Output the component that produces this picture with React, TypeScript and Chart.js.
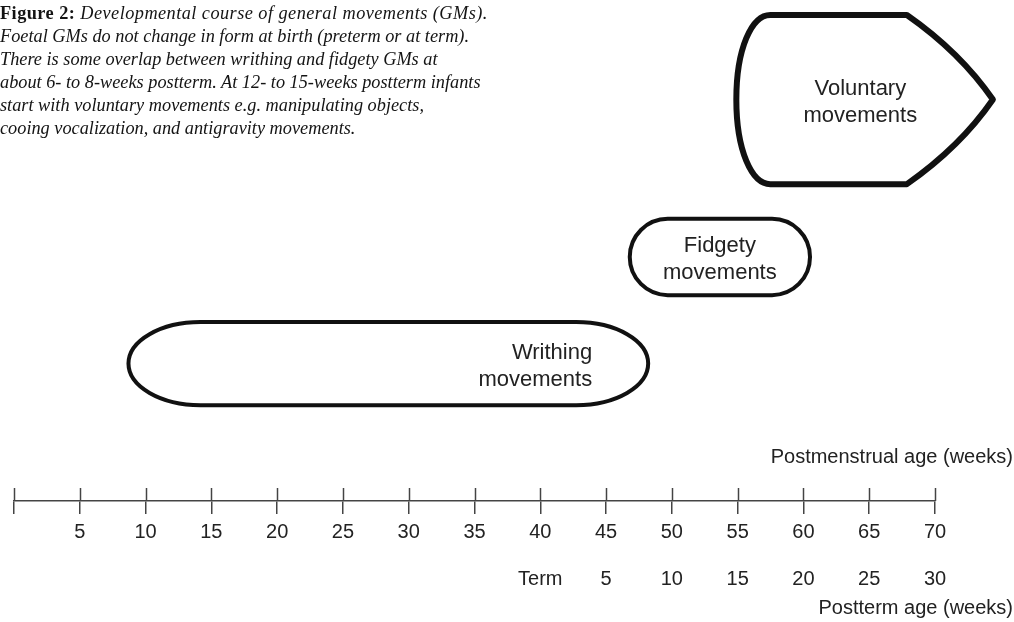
import React, { useEffect, useRef } from "react";
import { Chart, registerables } from "chart.js";

Chart.register(...registerables);

// ---------- data ----------
const movementNames: string[][] = [
  ["Writhing", "movements"],
  ["Fidgety", "movements"],
  ["Voluntary", "movements"],
];
const movementStartPMA: number[] = [8.7, 46.8, 54.9];
const movementEndPMA: number[] = [48.2, 60.5, 74.4];

const pmaTickValues: number[] = [0, 5, 10, 15, 20, 25, 30, 35, 40, 45, 50, 55, 60, 65, 70];
const pmaTickLabels: string[] = ["", "5", "10", "15", "20", "25", "30", "35", "40", "45", "50", "55", "60", "65", "70"];
const posttermTickLabels: string[] = ["", "", "", "", "", "", "", "", "Term", "5", "10", "15", "20", "25", "30"];

const pmaAxisTitle = "Postmenstrual age (weeks)";
const posttermAxisTitle = "Postterm age (weeks)";

const captionLines: string[] = [
  "Developmental course of general movements (GMs).",
  "Foetal GMs do not change in form at birth (preterm or at term).",
  "There is some overlap between writhing and fidgety GMs at",
  "about 6- to 8-weeks postterm. At 12- to 15-weeks postterm infants",
  "start with voluntary movements e.g. manipulating objects,",
  "cooing vocalization, and antigravity movements.",
];
const captionLead = "Figure 2:";

// ---------- styles (positions / sizes) ----------
const SANS = "'Liberation Sans', Arial, sans-serif";
const INK = "#111111";
const TEXT = "#222222";
const AXIS = "#444444";

type ShapeStyle = {
  kind: "oval" | "round" | "arrow";
  band: [number, number]; // y-units (0..100)
  lineWidth: number;
  rx?: number;
  inset?: number;
  taper?: number;
  textAlign: CanvasTextAlign;
  textDx: number;
  textDy: number;
};
const SHAPE_STYLES: ShapeStyle[] = [
  { kind: "oval", band: [19.6, 36.6], lineWidth: 4, rx: 72, textAlign: "right", textDx: -56, textDy: 3 },
  { kind: "round", band: [42.1, 57.7], lineWidth: 4, rx: 38, textAlign: "center", textDx: 0, textDy: 2 },
  { kind: "arrow", band: [64.8, 99.4], lineWidth: 6, inset: 34, taper: 86, textAlign: "center", textDx: 124, textDy: 3 },
];

function roundedEllipseRect(ctx: CanvasRenderingContext2D, x0: number, y0: number, x1: number, y1: number, rx: number, ry: number) {
  const k = 0.5523;
  ctx.beginPath();
  ctx.moveTo(x0 + rx, y0);
  ctx.lineTo(x1 - rx, y0);
  ctx.bezierCurveTo(x1 - rx + k * rx, y0, x1, y0 + ry - k * ry, x1, y0 + ry);
  ctx.lineTo(x1, y1 - ry);
  ctx.bezierCurveTo(x1, y1 - ry + k * ry, x1 - rx + k * rx, y1, x1 - rx, y1);
  ctx.lineTo(x0 + rx, y1);
  ctx.bezierCurveTo(x0 + rx - k * rx, y1, x0, y1 - ry + k * ry, x0, y1 - ry);
  ctx.lineTo(x0, y0 + ry);
  ctx.bezierCurveTo(x0, y0 + ry - k * ry, x0 + rx - k * rx, y0, x0 + rx, y0);
  ctx.closePath();
}

const shapesPlugin = {
  id: "gmShapes",
  afterDatasetsDraw(chart: any) {
    const { ctx, scales } = chart;
    const xs = scales.x;
    const ys = scales.y;
    ctx.save();
    movementNames.forEach((name, i) => {
      const st = SHAPE_STYLES[i];
      const x0 = xs.getPixelForValue(movementStartPMA[i]);
      const x1 = xs.getPixelForValue(movementEndPMA[i]);
      const y0 = ys.getPixelForValue(st.band[1]);
      const y1 = ys.getPixelForValue(st.band[0]);
      const ym = (y0 + y1) / 2;
      const h = y1 - y0;
      ctx.lineWidth = st.lineWidth;
      ctx.strokeStyle = INK;
      ctx.fillStyle = "#ffffff";
      ctx.lineJoin = "round";
      let anchorX = (x0 + x1) / 2;
      if (st.kind === "oval" || st.kind === "round") {
        roundedEllipseRect(ctx, x0, y0, x1, y1, Math.min(st.rx!, (x1 - x0) / 2), h / 2);
        if (st.kind === "oval") anchorX = x1;
      } else {
        const xc = x0 + st.inset!;
        const xf = x1 - st.taper!;
        ctx.beginPath();
        ctx.moveTo(xc, y0);
        ctx.lineTo(xf, y0);
        ctx.quadraticCurveTo(xf + st.taper! * 0.62, y0 + h * 0.22, x1, ym);
        ctx.quadraticCurveTo(xf + st.taper! * 0.62, y1 - h * 0.22, xf, y1);
        ctx.lineTo(xc, y1);
        ctx.bezierCurveTo(xc - st.inset! * 0.55, y1, x0, ym + h * 0.3, x0, ym);
        ctx.bezierCurveTo(x0, ym - h * 0.3, xc - st.inset! * 0.55, y0, xc, y0);
        ctx.closePath();
        anchorX = x0;
      }
      ctx.fill();
      ctx.stroke();
      ctx.fillStyle = TEXT;
      ctx.font = `22px ${SANS}`;
      ctx.textAlign = st.textAlign;
      ctx.textBaseline = "middle";
      const tx = anchorX + st.textDx;
      ctx.fillText(name[0], tx, ym + st.textDy - 13.5);
      ctx.fillText(name[1], tx, ym + st.textDy + 13.5);
    });
    ctx.restore();
  },
  afterDraw(chart: any) {
    const { ctx, scales, chartArea } = chart;
    const xs = scales.x;
    ctx.save();
    ctx.strokeStyle = AXIS;
    ctx.lineWidth = 1.5;
    xs.ticks.forEach((_t: any, i: number) => {
      const px = Math.round(xs.getPixelForTick(i)) + 0.5;
      ctx.beginPath();
      ctx.moveTo(px, chartArea.bottom - 13);
      ctx.lineTo(px, chartArea.bottom);
      ctx.stroke();
    });
    ctx.fillStyle = TEXT;
    ctx.font = `20px ${SANS}`;
    ctx.textAlign = "right";
    ctx.textBaseline = "middle";
    ctx.fillText(pmaAxisTitle, 1013, 457);
    ctx.fillText(posttermAxisTitle, 1013, 608);
    ctx.restore();
  },
};

export default function App() {
  const ref = useRef<HTMLCanvasElement | null>(null);
  useEffect(() => {
    if (!ref.current) return;
    const chart = new Chart(ref.current, {
      type: "scatter",
      data: { datasets: [] },
      options: {
        animation: false,
        responsive: true,
        maintainAspectRatio: false,
        layout: { padding: { left: 14, right: 79, top: 12, bottom: 0 } },
        plugins: { legend: { display: false }, tooltip: { enabled: false }, title: { display: false } },
        scales: {
          y: { type: "linear", min: 0, max: 100, display: false },
          x: {
            type: "linear",
            position: "bottom",
            min: 0,
            max: 70,
            weight: 0,
            afterFit: (s: any) => {
              s.height = 46;
              s.paddingLeft = 0;
              s.paddingRight = 0;
            },
            afterBuildTicks: (s: any) => {
              s.ticks = pmaTickValues.map((v) => ({ value: v }));
            },
            border: { display: true, color: AXIS, width: 1.5 },
            grid: { display: true, drawOnChartArea: false, drawTicks: true, tickLength: 13, tickColor: AXIS, lineWidth: 1.5 },
            ticks: {
              autoSkip: false,
              maxRotation: 0,
              padding: 6,
              color: TEXT,
              font: { family: SANS, size: 20 },
              callback: (_v: any, i: number) => pmaTickLabels[i],
            },
          },
          x2: {
            type: "linear",
            position: "bottom",
            min: -40,
            max: 30,
            weight: 1,
            afterFit: (s: any) => {
              s.height = 75;
              s.paddingLeft = 0;
              s.paddingRight = 0;
            },
            afterBuildTicks: (s: any) => {
              s.ticks = pmaTickValues.map((v) => ({ value: v - 40 }));
            },
            border: { display: false },
            grid: { display: false, drawTicks: false },
            ticks: {
              autoSkip: false,
              maxRotation: 0,
              padding: 20,
              color: TEXT,
              font: { family: SANS, size: 20 },
              callback: (_v: any, i: number) => posttermTickLabels[i],
            },
          },
        },
      },
      plugins: [shapesPlugin],
    } as any);
    return () => chart.destroy();
  }, []);

  return (
    <div style={{ position: "fixed", left: 0, top: 0, width: 1014, height: 622, background: "#ffffff" }}>
      <canvas ref={ref} />
      <div
        style={{
          position: "absolute",
          left: 0,
          top: 2,
          fontFamily: "'Liberation Serif', 'Times New Roman', serif",
          fontStyle: "italic",
          fontSize: 18.3,
          lineHeight: "23px",
          color: "#141414",
          whiteSpace: "nowrap",
        }}
      >
        {captionLines.map((line, i) => (
          <div key={i} style={i === 0 ? { letterSpacing: "0.45px" } : undefined}>
            {i === 0 ? <span style={{ fontStyle: "normal", fontWeight: 700 }}>{captionLead} </span> : null}
            {line}
          </div>
        ))}
      </div>
    </div>
  );
}
